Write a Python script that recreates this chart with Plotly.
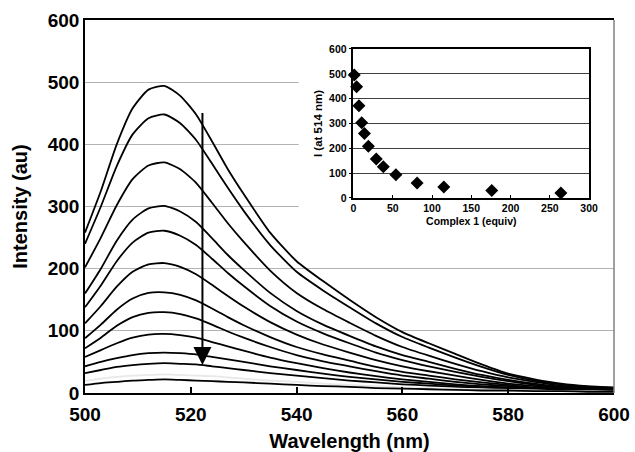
import plotly.graph_objects as go

# ---------------- data ----------------
wavelength_nm = [500, 503, 506, 509, 512, 515, 518, 521, 524, 527, 530, 535, 540,
                 545, 550, 555, 560, 565, 570, 575, 580, 585, 590, 595, 600]

spectrum_01 = [258, 325, 400, 458, 488, 494, 478, 448, 405, 360, 320, 258, 212, 180, 150, 122, 98, 80, 63, 46, 31, 22, 15, 11, 9]
spectrum_02 = [240, 300, 365, 416, 442, 448, 434, 407, 369, 330, 293, 238, 195, 165, 138, 112, 90, 73, 57, 42, 29, 20, 14, 10, 8]
spectrum_03 = [202, 250, 302, 344, 366, 371, 360, 338, 306, 273, 243, 197, 161, 135, 113, 92, 74, 60, 47, 35, 25, 18, 12, 9, 7]
spectrum_04 = [160, 200, 245, 279, 297, 301, 292, 275, 249, 222, 198, 161, 132, 110, 92, 75, 61, 50, 39, 29, 21, 15, 10, 8, 6]
spectrum_05 = [138, 173, 212, 242, 258, 261, 253, 238, 216, 193, 172, 140, 115, 96, 80, 65, 53, 43, 34, 26, 19, 13, 9, 7, 5]
spectrum_06 = [112, 140, 171, 195, 207, 209, 203, 191, 174, 156, 139, 114, 94, 78, 65, 53, 43, 35, 28, 21, 15, 11, 8, 6, 5]
spectrum_07 = [88, 110, 134, 152, 161, 162, 158, 149, 136, 122, 109, 90, 74, 62, 52, 42, 34, 28, 22, 17, 13, 9, 7, 5, 4]
spectrum_08 = [72, 89, 108, 122, 129, 130, 127, 120, 110, 99, 89, 74, 61, 51, 43, 35, 28, 23, 18, 14, 11, 8, 6, 5, 4]
spectrum_09 = [58, 69, 80, 89, 94, 95, 93, 89, 82, 75, 68, 57, 48, 40, 33, 27, 22, 18, 14, 11, 9, 7, 5, 4, 3]
spectrum_10 = [43, 50, 56, 61, 64, 65, 64, 62, 58, 54, 50, 43, 37, 31, 26, 22, 18, 15, 12, 10, 8, 6, 5, 4, 3]
spectrum_11 = [32, 37, 42, 45, 47, 48, 47, 46, 43, 40, 37, 32, 28, 24, 20, 17, 14, 12, 10, 8, 6, 5, 4, 3, 3]
spectrum_12 = [19, 23, 26, 28, 29, 30, 29, 28, 27, 25, 23, 20, 18, 15, 13, 11, 9, 8, 7, 6, 5, 4, 3, 3, 2]
spectrum_13 = [13, 16, 18, 20, 21, 22, 21, 20, 19, 18, 17, 15, 13, 11, 10, 8, 7, 6, 5, 4, 4, 3, 3, 2, 2]

spectra = [spectrum_01, spectrum_02, spectrum_03, spectrum_04, spectrum_05, spectrum_06, spectrum_07,
           spectrum_08, spectrum_09, spectrum_10, spectrum_11, spectrum_12, spectrum_13]
spectrum_colors = ["black"] * 11 + ["#e8e8e8", "black"]

# inset: intensity at 514 nm vs equivalents of complex 1
complex_equiv = [1, 4, 7, 10.5, 14, 19, 29, 38, 54, 81, 115, 176, 264]
intensity_514 = [495, 448, 371, 303, 260, 208, 157, 126, 94, 60, 44, 30, 20]

main_x_ticks = [500, 520, 540, 560, 580, 600]
main_y_ticks = [0, 100, 200, 300, 400, 500, 600]
inset_x_ticks = [0, 50, 100, 150, 200, 250, 300]
inset_y_ticks = [0, 100, 200, 300, 400, 500, 600]

# arrow (direction of decreasing emission)
arrow_wavelength = 522.2
arrow_top = 453
arrow_tip = 45

# ---------------- figure ----------------
FONT = "Liberation Sans, Arial, sans-serif"
fig = go.Figure()

for ys, col in zip(spectra, spectrum_colors):
    fig.add_trace(go.Scatter(
        x=wavelength_nm, y=ys, mode="lines",
        line=dict(color=col, width=1.8, shape="spline", smoothing=0.6),
        xaxis="x", yaxis="y", showlegend=False, hoverinfo="skip"))

fig.add_trace(go.Scatter(
    x=complex_equiv, y=intensity_514, mode="markers",
    marker=dict(symbol="diamond", size=10, color="black"),
    xaxis="x2", yaxis="y2", showlegend=False, cliponaxis=False))

fig.add_annotation(
    x=arrow_wavelength, y=arrow_tip, ax=arrow_wavelength, ay=arrow_top,
    xref="x", yref="y", axref="x", ayref="y",
    showarrow=True, arrowhead=2, arrowsize=1.8, arrowwidth=2,
    arrowcolor="black", text="", standoff=0)

# white panel behind the inset (hides main gridlines there)
fig.add_shape(type="rect", xref="x", yref="y", x0=540.4, x1=600, y0=250, y1=600,
              fillcolor="white", line=dict(width=0), layer="between")
# right border (grey)
fig.add_shape(type="line", xref="paper", yref="paper", x0=1, x1=1, y0=0, y1=1,
              line=dict(color="#808080", width=1.5))

fig.update_layout(
    width=635, height=452,
    margin=dict(l=85, r=18, t=20, b=59),
    paper_bgcolor="white", plot_bgcolor="white",
    font=dict(family=FONT, color="black"),
    xaxis=dict(
        range=[500, 600], tickvals=main_x_ticks, ticks="inside", ticklen=6,
        tickwidth=1.5, tickcolor="black", showline=True, linecolor="black",
        linewidth=1.5, mirror=True, showgrid=False, zeroline=False,
        tickfont=dict(size=19, family=FONT, weight="bold"), ticklabelstandoff=3,
        title=dict(text="Wavelength (nm)", font=dict(size=20, family=FONT, weight="bold"),
                   standoff=15),
        automargin=False),
    yaxis=dict(
        range=[0, 600], tickvals=main_y_ticks, ticks="", showline=True,
        linecolor="black", linewidth=1.5, mirror=False, showgrid=True,
        gridcolor="#b3b3b3", gridwidth=1, zeroline=False,
        tickfont=dict(size=19, family=FONT, weight="bold"),
        title=dict(text="Intensity (au)", font=dict(size=20, family=FONT, weight="bold"),
                   standoff=15),
        automargin=False),
    xaxis2=dict(
        domain=[0.5075, 0.953], anchor="y2", range=[0, 300], tickvals=inset_x_ticks,
        ticks="inside", ticklen=3, tickcolor="black", showline=True,
        linecolor="black", linewidth=1.5, mirror=True, showgrid=False, zeroline=False,
        tickfont=dict(size=10.5, family=FONT, weight="bold"),
        title=dict(text="Complex 1 (equiv)", font=dict(size=10.5, family=FONT, weight="bold"),
                   standoff=4)),
    yaxis2=dict(
        domain=[0.5228, 0.9223], anchor="x2", range=[0, 600], tickvals=inset_y_ticks,
        ticks="outside", ticklen=3, tickcolor="black", showline=True,
        linecolor="black", linewidth=1.5, mirror=True, showgrid=True,
        gridcolor="#404040", gridwidth=1, zeroline=False,
        tickfont=dict(size=10.5, family=FONT, weight="bold"),
        title=dict(text="I (at 514 nm)", font=dict(size=11.5, family=FONT, weight="bold"),
                   standoff=4)),
)

fig.write_html("out.html", config={"displayModeBar": False},
               post_script="document.body.style.margin='0px';")
